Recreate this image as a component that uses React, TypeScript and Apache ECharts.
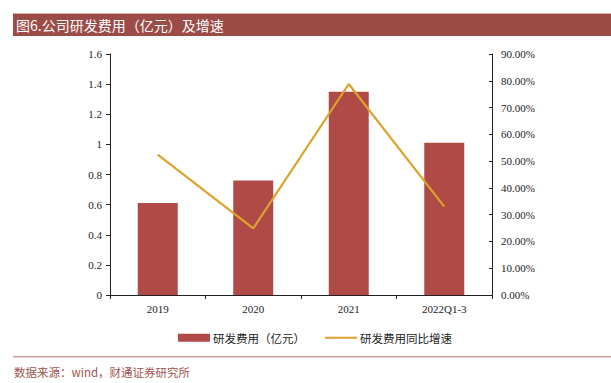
import React, { useEffect, useRef } from "react";
import * as echarts from "echarts";

const categories = ["2019", "2020", "2021", "2022Q1-3"];
const rdExpense = [0.61, 0.76, 1.35, 1.01];
const rdGrowth = [52.4, 24.9, 78.8, 33.0];
const titleText = "图6.公司研发费用（亿元）及增速";
const sourceText = "数据来源：wind，财通证券研究所";
const seriesNames = ["研发费用（亿元）", "研发费用同比增速"];

export default function App() {
  const ref = useRef<HTMLDivElement>(null);
  useEffect(() => {
    document.body.style.margin = "0";
    const chart = echarts.init(ref.current!, null, { renderer: "svg" });
    const serif = "'Liberation Serif', 'Times New Roman', serif";
    chart.setOption({
      animation: false,
      backgroundColor: "#ffffff",
      graphic: [
        {
          type: "rect",
          shape: { x: 13, y: 13, width: 598, height: 23 },
          style: { fill: "#9c4b47" },
        },
        {
          type: "rect",
          shape: { x: 13, y: 13, width: 598, height: 1 },
          style: { fill: "#d9aaa8" },
        },
        {
          type: "text",
          x: 16,
          y: 25,
          style: {
            text: titleText,
            fill: "#ffffff",
            font: "14px 'Noto Sans CJK SC', sans-serif",
            verticalAlign: "middle",
          },
        },
        {
          type: "rect",
          shape: { x: 13, y: 356, width: 598, height: 1.5 },
          style: { fill: "#cf9f9c" },
        },
        {
          type: "text",
          x: 14,
          y: 372,
          style: {
            text: sourceText,
            fill: "#a0544f",
            font: "11.5px 'Noto Sans CJK SC', sans-serif",
            verticalAlign: "middle",
          },
        },
      ],
      grid: { left: 110, right: 119, top: 54, bottom: 88 },
      legend: {
        left: 173,
        top: 327,
        itemWidth: 32,
        itemHeight: 8,
        itemGap: 20,
        textStyle: {
          fontSize: 11.5,
          color: "#222",
          fontFamily: "'Noto Sans CJK SC', sans-serif",
          padding: [0, 0, 0, -2],
        },
        data: [
          { name: seriesNames[0], icon: "rect" },
          { name: seriesNames[1], icon: "path://M0,0 M0,3 L32,3 L32,5 L0,5 Z M32,8" },
        ],
      },
      xAxis: {
        type: "category",
        data: categories,
        axisLine: { lineStyle: { color: "#222", width: 1 } },
        axisTick: { show: true, length: 4, inside: false, lineStyle: { color: "#222" } },
        axisLabel: { color: "#222", fontFamily: serif, fontSize: 11, margin: 8 },
      },
      yAxis: [
        {
          type: "value",
          min: 0,
          max: 1.6,
          interval: 0.2,
          splitLine: { show: false },
          axisLine: { show: true, lineStyle: { color: "#222" } },
          axisTick: { show: true, length: 4, lineStyle: { color: "#222" } },
          axisLabel: { color: "#222", fontFamily: serif, fontSize: 11, margin: 8 },
        },
        {
          type: "value",
          min: 0,
          max: 90,
          interval: 10,
          position: "right",
          splitLine: { show: false },
          axisLine: { show: true, lineStyle: { color: "#222" } },
          axisTick: { show: true, inside: true, length: 3, lineStyle: { color: "#222" } },
          axisLabel: {
            color: "#222",
            fontFamily: serif,
            fontSize: 11,
            margin: 9,
            formatter: (v: number) => v.toFixed(2) + "%",
          },
        },
      ],
      series: [
        {
          name: seriesNames[0],
          type: "bar",
          data: rdExpense,
          barWidth: 40,
          itemStyle: { color: "#b04a47" },
        },
        {
          name: seriesNames[1],
          type: "line",
          yAxisIndex: 1,
          data: rdGrowth,
          symbol: "none",
          showSymbol: false,
          lineStyle: { color: "#dca22b", width: 2.2 },
          itemStyle: { color: "#dca22b" },
        },
      ],
    });
    return () => chart.dispose();
  }, []);
  return <div ref={ref} style={{ width: 611, height: 383 }} />;
}
